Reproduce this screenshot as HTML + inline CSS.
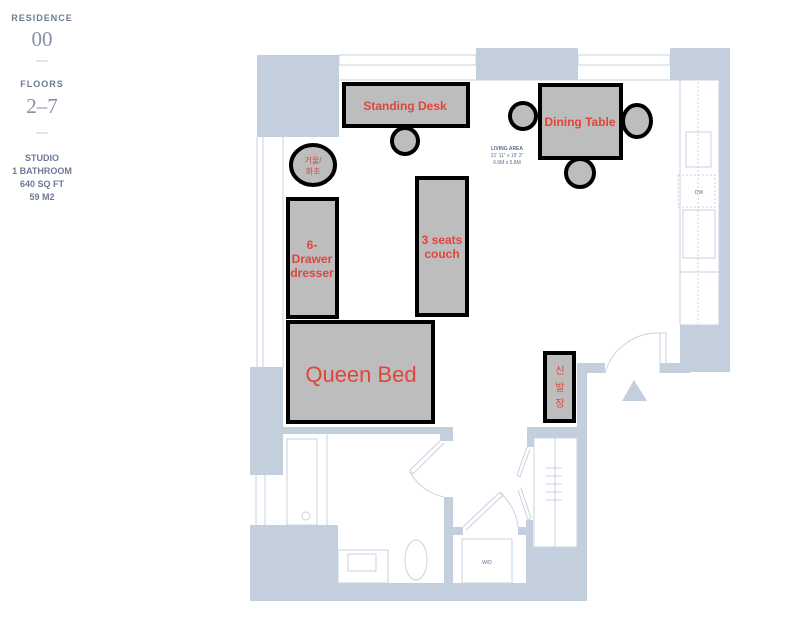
<!DOCTYPE html>
<html><head><meta charset="utf-8"><style>
body{margin:0;background:#fff;width:800px;height:624px;overflow:hidden}
svg{display:block}
</style></head><body>
<svg width="800" height="624" viewBox="0 0 800 624" xmlns="http://www.w3.org/2000/svg" font-family="Liberation Sans, Noto Sans CJK KR, sans-serif">
<!-- left info -->
<g fill="#6d7a95" text-anchor="middle">
<text x="42" y="21" font-size="9" font-weight="bold" letter-spacing="1">RESIDENCE</text>
<text x="42" y="46" font-size="21" font-family="Liberation Serif, serif" fill="#8591aa">00</text>
<line x1="36" y1="61" x2="48" y2="61" stroke="#c5ccd8"/>
<text x="42" y="87" font-size="9" font-weight="bold" letter-spacing="1">FLOORS</text>
<text x="42" y="113" font-size="21" font-family="Liberation Serif, serif" fill="#8591aa">2–7</text>
<line x1="36" y1="133" x2="48" y2="133" stroke="#c5ccd8"/>
<text x="42" y="161" font-size="9" font-weight="bold">STUDIO</text>
<text x="42" y="174" font-size="9" font-weight="bold">1 BATHROOM</text>
<text x="42" y="187" font-size="9" font-weight="bold">640 SQ FT</text>
<text x="42" y="200" font-size="9" font-weight="bold">59 M2</text>
</g>
<!-- walls -->
<g fill="#c3cfdd">
<rect x="257" y="55" width="82" height="82"/>
<rect x="476" y="48" width="102" height="32"/>
<rect x="670" y="48" width="60" height="32"/>
<rect x="719" y="48" width="11" height="290"/>
<rect x="680" y="325" width="50" height="47"/>
<rect x="660" y="363" width="30" height="10"/>
<rect x="250" y="367" width="33" height="108"/>
<rect x="250" y="525" width="88" height="76"/>
<rect x="250" y="583" width="337" height="18"/>
<rect x="577" y="363" width="28" height="10"/>
<rect x="577" y="363" width="10" height="238"/>
<rect x="283" y="427" width="170" height="7"/>
<rect x="440" y="427" width="13" height="14"/>
<rect x="527" y="427" width="50" height="11"/>
<rect x="527" y="427" width="7" height="20"/>
<rect x="444" y="497" width="9" height="90"/>
<rect x="453" y="527" width="10" height="8"/>
<rect x="518" y="527" width="15" height="8"/>
<rect x="526" y="520" width="7" height="67"/>
<rect x="533" y="547" width="44" height="40"/>
<polygon points="622,401 647,401 634,380"/>
</g>
<!-- thin lines -->
<g fill="none" stroke="#c8d2e0" stroke-width="1">
<rect x="339" y="55" width="137" height="10"/><rect x="578" y="55" width="92" height="10"/>
<line x1="339" y1="80" x2="719" y2="80"/>
<rect x="680" y="80" width="39" height="245"/>
<line x1="698" y1="82" x2="698" y2="323" stroke-dasharray="2,2"/>
<rect x="686" y="132" width="25" height="35"/>
<rect x="678" y="175" width="37" height="32" stroke-dasharray="2,2"/>
<rect x="683" y="210" width="32" height="48"/>
<line x1="680" y1="272" x2="719" y2="272"/>
<line x1="257" y1="137" x2="257" y2="367"/><line x1="263" y1="137" x2="263" y2="367"/><line x1="283" y1="137" x2="283" y2="367"/>
<line x1="256" y1="475" x2="256" y2="525"/><line x1="265" y1="475" x2="265" y2="525"/>
<path d="M660,373 L660,333 L666,333 L666,373"/>
<path d="M660,333 A55,55 0 0 0 605,373"/>
<rect x="287" y="439" width="30" height="86"/><line x1="327" y1="434" x2="327" y2="528"/>
<circle cx="306" cy="516" r="4"/>
<rect x="338" y="550" width="50" height="33"/><rect x="348" y="554" width="28" height="17"/>
<ellipse cx="416" cy="560" rx="11" ry="20"/>
<path d="M440,441 L410,470 L413,474 L444,443"/><path d="M410,472 A50,50 0 0 0 444,497"/>
<rect x="462" y="539" width="50" height="44"/>
<path d="M463,527 L500,492 L503,495 L466,530"/><path d="M500,493 A50,50 0 0 1 518,527"/>
<path d="M527,447 L517,475 L520,477 L530,449"/><path d="M518,490 L528,520 L531,518 L521,488"/>
<rect x="534" y="438" width="43" height="109"/><line x1="555" y1="438" x2="555" y2="547"/>
</g>
<g stroke="#c8d2e0"><line x1="546" y1="468" x2="562" y2="468"/><line x1="546" y1="476" x2="562" y2="476"/><line x1="546" y1="484" x2="562" y2="484"/><line x1="546" y1="492" x2="562" y2="492"/><line x1="546" y1="500" x2="562" y2="500"/></g>
<g fill="#5f6d8c" font-size="5" text-anchor="middle">
<text x="507" y="150" font-weight="bold">LIVING AREA</text>
<text x="507" y="157">21' 11" x 19' 2"</text>
<text x="507" y="164">6.6M x 5.8M</text>
<text x="699" y="194">DW</text>
<text x="487" y="564">W/D</text>
</g>
<!-- furniture -->
<g fill="#bdbdbd" stroke="#000" stroke-width="4">
<rect x="344" y="84" width="124" height="42"/>
<circle cx="405" cy="141" r="13"/>
<rect x="540" y="85" width="81" height="73"/>
<circle cx="523" cy="116" r="13"/>
<ellipse cx="637" cy="121" rx="14" ry="16"/>
<circle cx="580" cy="173" r="14"/>
<ellipse cx="313" cy="165" rx="22" ry="20"/>
<rect x="288" y="199" width="49" height="118"/>
<rect x="417" y="178" width="50" height="137"/>
<rect x="288" y="322" width="145" height="100"/>
<rect x="545" y="353" width="29" height="68"/>
</g>
<g fill="#e0453a" font-weight="bold" text-anchor="middle" font-size="12">
<text x="405" y="110">Standing Desk</text>
<text x="580" y="126">Dining Table</text>
<text x="442" y="244">3 seats</text>
<text x="442" y="258">couch</text>
<text x="312" y="249">6-</text>
<text x="312" y="263">Drawer</text>
<text x="312" y="277">dresser</text>
<text x="313" y="163" font-size="8" font-weight="normal">거울/</text>
<text x="313" y="174" font-size="8" font-weight="normal">화초</text>
<text x="560" y="374" font-size="10" font-weight="normal">신</text>
<text x="560" y="391" font-size="10" font-weight="normal">발</text>
<text x="560" y="407" font-size="10" font-weight="normal">장</text>
<text x="361" y="382" font-size="22" font-weight="normal">Queen Bed</text>
</g>
</svg>
</body></html>
